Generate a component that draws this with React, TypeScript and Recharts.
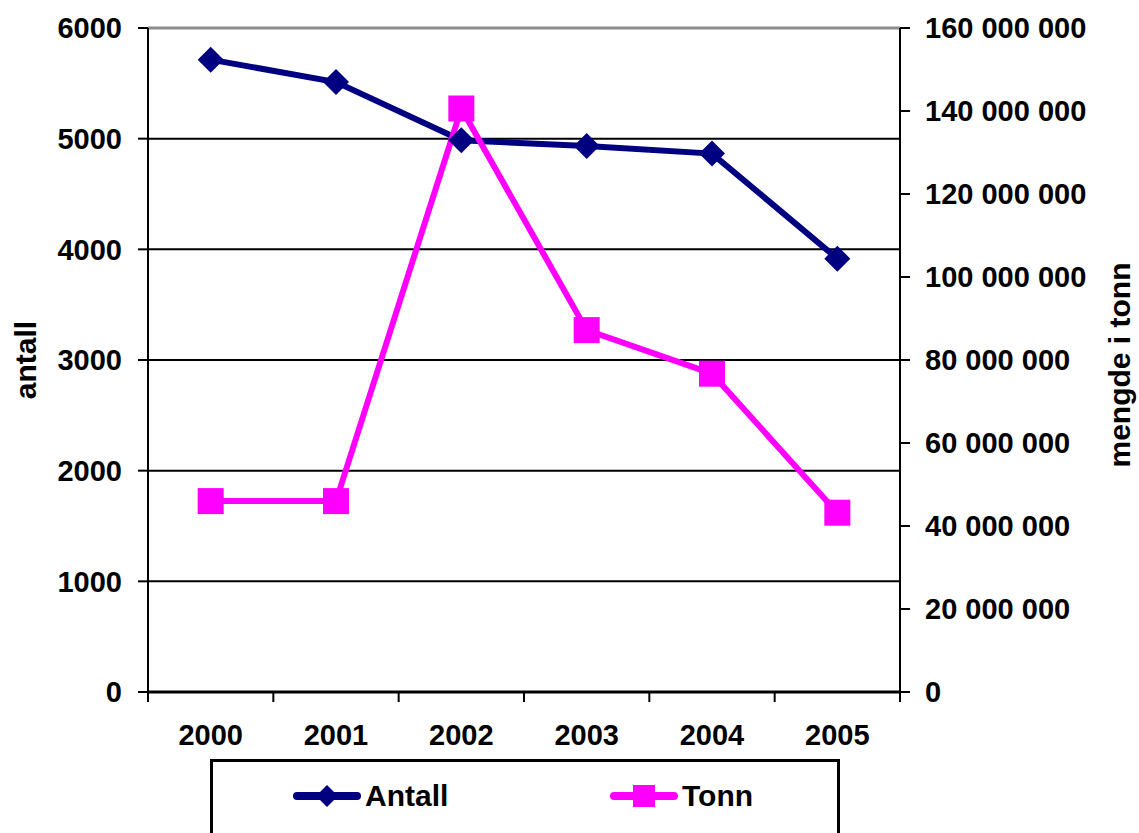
import React from 'react';
import {
  LineChart,
  Line,
  XAxis,
  YAxis,
  CartesianGrid,
  Legend,
  ReferenceLine,
} from 'recharts';

const years = ['2000', '2001', '2002', '2003', '2004', '2005'];
const antall = [5714, 5511, 4985, 4933, 4865, 3916];
const tonn = [46000000, 46000000, 140600000, 87200000, 76700000, 43200000];
const leftTicks = [0, 1000, 2000, 3000, 4000, 5000, 6000];
const rightTicks = [0, 20000000, 40000000, 60000000, 80000000, 100000000, 120000000, 140000000, 160000000];

const data = years.map((year, i) => ({ year, Antall: antall[i], Tonn: tonn[i] }));

const FONT = '"Liberation Sans", Arial, Helvetica, sans-serif';
const NAVY = '#000080';
const MAGENTA = '#FF00FF';

const fmtSpace = (v: number) => String(Math.round(v)).replace(/\B(?=(\d{3})+(?!\d))/g, ' ');

const Diamond = (props: any) => {
  const { cx, cy, index } = props;
  if (cx == null || cy == null) return null;
  const r = 13;
  return (
    <polygon
      key={`d-${index}`}
      points={`${cx},${cy - r} ${cx + r},${cy} ${cx},${cy + r} ${cx - r},${cy}`}
      fill={NAVY}
    />
  );
};

const Square = (props: any) => {
  const { cx, cy, index } = props;
  if (cx == null || cy == null) return null;
  const s = 26;
  return <rect key={`s-${index}`} x={cx - s / 2} y={cy - s / 2} width={s} height={s} fill={MAGENTA} />;
};

const XTick = (props: any) => {
  const { x, y, payload, index, visibleTicksCount } = props;
  const off = payload && payload.offset != null ? payload.offset : 0;
  const last = visibleTicksCount ? index === visibleTicksCount - 1 : index === years.length - 1;
  return (
    <g>
      <line x1={x - off} y1={y} x2={x - off} y2={y + 10} stroke="#000" strokeWidth={2} />
      {last && <line x1={x + off} y1={y} x2={x + off} y2={y + 10} stroke="#000" strokeWidth={2} />}
      <text
        x={x}
        y={y + 43}
        textAnchor="middle"
        dominantBaseline="central"
        fontFamily={FONT}
        fontWeight="bold"
        fontSize={29}
        fill="#000"
      >
        {payload.value}
      </text>
    </g>
  );
};

const LegendContent = (props: any) => {
  const { payload } = props;
  const items = payload || [];
  const positions = [80, 397];
  return (
    <div
      style={{
        position: 'absolute',
        left: 210,
        top: 0,
        width: 630,
        height: 110,
        border: '3px solid #000',
        boxSizing: 'border-box',
        background: '#fff',
      }}
    >
      {items.map((item: any, i: number) => {
        const color = item.color;
        const isDiamond = item.value === 'Antall';
        return (
          <div
            key={item.value}
            style={{
              position: 'absolute',
              left: positions[i],
              top: 16,
              height: 36,
              display: 'flex',
              alignItems: 'center',
            }}
          >
            <svg width={68} height={28} style={{ display: 'block' }}>
              <line x1={4} y1={14} x2={64} y2={14} stroke={color} strokeWidth={8} strokeLinecap="round" />
              {isDiamond ? (
                <polygon points="34,3 45,14 34,25 23,14" fill={color} />
              ) : (
                <rect x={23} y={3} width={22} height={22} fill={color} />
              )}
            </svg>
            <span
              style={{
                fontFamily: FONT,
                fontWeight: 'bold',
                fontSize: 30,
                color: '#000',
                marginLeft: 4,
                lineHeight: '36px',
              }}
            >
              {item.value}
            </span>
          </div>
        );
      })}
    </div>
  );
};

const LeftTitle = (props: any) => {
  const vb = props.viewBox || {};
  const x = vb.x + 25;
  const y = vb.y + vb.height / 2;
  return (
    <text
      x={x}
      y={y}
      transform={`rotate(-90, ${x}, ${y})`}
      textAnchor="middle"
      dominantBaseline="central"
      fontFamily={FONT}
      fontWeight="bold"
      fontSize={30}
      fill="#000"
    >
      antall
    </text>
  );
};

const RightTitle = (props: any) => {
  const vb = props.viewBox || {};
  const x = vb.x + 219;
  const y = vb.y + vb.height / 2 + 5;
  return (
    <text
      x={x}
      y={y}
      transform={`rotate(-90, ${x}, ${y})`}
      textAnchor="middle"
      dominantBaseline="central"
      fontFamily={FONT}
      fontWeight="bold"
      fontSize={30}
      fill="#000"
    >
      mengde i tonn
    </text>
  );
};

export default function App() {
  const tickStyle = { fontFamily: FONT, fontWeight: 'bold', fontSize: 29, fill: '#000' };
  return (
    <div style={{ position: 'absolute', left: 0, top: 0, width: 1139, height: 833, background: '#fff', overflow: 'hidden' }}>
      <LineChart width={1139} height={833} data={data} margin={{ top: 28, right: 0, bottom: 0, left: 0 }}>
        <CartesianGrid vertical={false} stroke="#000" strokeWidth={2} yAxisId="left" />
        <XAxis
          dataKey="year"
          scale="band"
          interval={0}
          height={67}
          tickLine={false}
          tickSize={0}
          tickMargin={0}
          axisLine={{ stroke: '#000', strokeWidth: 3 }}
          tick={<XTick />}
        />
        <YAxis
          yAxisId="left"
          domain={[0, 6000]}
          ticks={leftTicks}
          interval={0}
          width={148}
          tickSize={10}
          tickMargin={16}
          axisLine={{ stroke: '#000', strokeWidth: 2 }}
          tickLine={{ stroke: '#000', strokeWidth: 2 }}
          tick={tickStyle}
          label={<LeftTitle />}
        />
        <YAxis
          yAxisId="right"
          orientation="right"
          domain={[0, 160000000]}
          ticks={rightTicks}
          interval={0}
          width={239}
          tickSize={10}
          tickMargin={15}
          tickFormatter={fmtSpace}
          axisLine={{ stroke: '#000', strokeWidth: 2 }}
          tickLine={{ stroke: '#000', strokeWidth: 2 }}
          tick={tickStyle}
          label={<RightTitle />}
        />
        <ReferenceLine yAxisId="left" y={6000} stroke="#8c8c8c" strokeWidth={3} />
        <Legend
          verticalAlign="bottom"
          height={74}
          content={<LegendContent />}
          wrapperStyle={{ left: 0, width: 1139, height: 74, overflow: 'hidden', bottom: 0 }}
        />
        <Line
          yAxisId="left"
          dataKey="Antall"
          name="Antall"
          stroke={NAVY}
          strokeWidth={6}
          dot={<Diamond />}
          activeDot={false}
          isAnimationActive={false}
        />
        <Line
          yAxisId="right"
          dataKey="Tonn"
          name="Tonn"
          stroke={MAGENTA}
          strokeWidth={6}
          dot={<Square />}
          activeDot={false}
          isAnimationActive={false}
        />
      </LineChart>
    </div>
  );
}
